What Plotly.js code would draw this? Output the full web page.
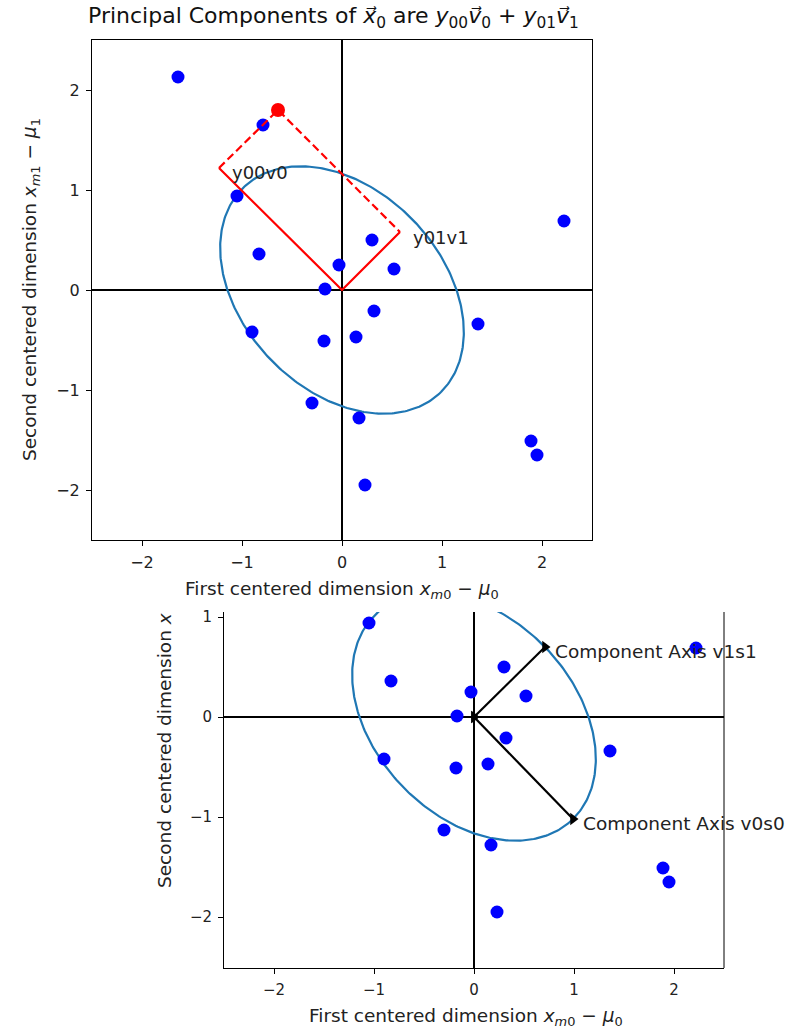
<!DOCTYPE html>
<html>
<head>
<meta charset="utf-8">
<script src="https://cdn.plot.ly/plotly-3.0.1.min.js"></script>
<style>html,body{margin:0;padding:0;background:#fff;}#chart{width:804px;height:1029px;}</style>
</head>
<body>
<div id="chart"></div>
<script>
// ---- data ----
const pointsX = [-1.64, -0.79, -1.05, -0.83, 0.30, -0.03, 0.52, -0.17, 0.32, -0.90, -0.18, 0.14, 1.36, -0.30, 0.17, 2.22, 1.89, 1.95, 0.23];
const pointsY = [2.13, 1.65, 0.94, 0.36, 0.50, 0.25, 0.21, 0.01, -0.21, -0.42, -0.51, -0.47, -0.34, -1.13, -1.28, 0.69, -1.51, -1.65, -1.95];
const redPoint = [-0.64, 1.80];      // x0
const y00v0 = [-1.23, 1.22];         // projection on v0
const y01v1 = [0.58, 0.58];          // projection on v1
const v0s0 = [0.99, -1.02];          // component axis 0 (scaled)
const v1s1 = [0.71, 0.70];           // component axis 1 (scaled)
const tickVals = [-2, -1, 0, 1, 2];
const tickVals2 = [-2, -1, 0, 1];
const labelTop = ['y00v0', 'y01v1'];
const labelBottom = ['Component Axis v0s0', 'Component Axis v1s1'];

// ellipse spanned by the two scaled component axes
const ex = [], ey = [];
for (let i = 0; i <= 360; i++) {
  const t = i * Math.PI / 180;
  ex.push(Math.cos(t) * v0s0[0] + Math.sin(t) * v1s1[0]);
  ey.push(Math.cos(t) * v0s0[1] + Math.sin(t) * v1s1[1]);
}

const W = 804, H = 1029;
const px = v => v / W;
const py = v => 1 - v / H;
const FONT = 'DejaVu Sans, sans-serif';
const C0 = '#1f77b4';

const traces = [
  // top
  {x: ex, y: ey, xaxis: 'x', yaxis: 'y', mode: 'lines', line: {color: C0, width: 2.2}},
  {x: pointsX, y: pointsY, xaxis: 'x', yaxis: 'y', mode: 'markers', marker: {color: '#0000ff', size: 13}},
  {x: [y00v0[0], 0, y01v1[0]], y: [y00v0[1], 0, y01v1[1]], xaxis: 'x', yaxis: 'y', mode: 'lines', line: {color: '#ff0000', width: 2.2}},
  {x: [y00v0[0], redPoint[0], y01v1[0]], y: [y00v0[1], redPoint[1], y01v1[1]], xaxis: 'x', yaxis: 'y', mode: 'lines', line: {color: '#ff0000', width: 2.2, dash: '8px,4px'}},
  {x: [redPoint[0]], y: [redPoint[1]], xaxis: 'x', yaxis: 'y', mode: 'markers', marker: {color: '#ff0000', size: 14}},
  // bottom
  {x: ex, y: ey, xaxis: 'x2', yaxis: 'y2', mode: 'lines', line: {color: C0, width: 2.2}},
  {x: pointsX, y: pointsY, xaxis: 'x2', yaxis: 'y2', mode: 'markers', marker: {color: '#0000ff', size: 13}},
  {x: [0, v0s0[0]], y: [0, v0s0[1]], xaxis: 'x2', yaxis: 'y2', mode: 'lines+markers', line: {color: '#000', width: 2.2}, marker: {symbol: 'triangle-right', size: 11, color: '#000'}},
  {x: [0, v1s1[0]], y: [0, v1s1[1]], xaxis: 'x2', yaxis: 'y2', mode: 'lines+markers', line: {color: '#000', width: 2.2}, marker: {symbol: 'triangle-right', size: 11, color: '#000'}}
];

const axisCommon = {
  showgrid: false, zeroline: true, zerolinecolor: '#000', zerolinewidth: 2.4,
  showline: true, linecolor: '#000', linewidth: 1,
  ticks: 'outside', ticklen: 5, tickwidth: 1, tickcolor: '#000',
  ticklabelstandoff: 3,
  tickfont: {family: FONT, size: 16, color: '#222'},
  fixedrange: true
};

const labFont = {family: FONT, size: 18.5, color: '#222'};
const txtFont = {family: FONT, size: 18, color: '#222'};
const cmpFont = {family: FONT, size: 18.5, color: '#222'};
const annotations = [
  {xref: 'paper', yref: 'paper', x: px(333), y: py(17), xanchor: 'center', yanchor: 'middle', showarrow: false,
   text: 'Principal Components of <i>x\u20D7</i><sub>0</sub> are <i>y</i><sub>00</sub><i>v\u20D7</i><sub>0</sub> + <i>y</i><sub>01</sub><i>v\u20D7</i><sub>1</sub>',
   font: {family: FONT, size: 22, color: '#111'}},
  {xref: 'paper', yref: 'paper', x: px(31), y: py(290), textangle: -90, xanchor: 'center', yanchor: 'middle', showarrow: false,
   text: 'Second centered dimension <i>x</i><sub><i>m</i>1</sub> \u2212 <i>\u03bc</i><sub>1</sub>', font: labFont},
  {xref: 'paper', yref: 'paper', x: px(342), y: py(590), xanchor: 'center', yanchor: 'middle', showarrow: false,
   text: 'First centered dimension <i>x</i><sub><i>m</i>0</sub> \u2212 <i>\u03bc</i><sub>0</sub>', font: labFont},
  {xref: 'paper', yref: 'paper', x: px(466), y: py(1017), xanchor: 'center', yanchor: 'middle', showarrow: false,
   text: 'First centered dimension <i>x</i><sub><i>m</i>0</sub> \u2212 <i>\u03bc</i><sub>0</sub>', font: labFont},
  {xref: 'paper', yref: 'paper', x: px(164), y: py(890), textangle: -90, xanchor: 'center', yanchor: 'bottom', showarrow: false,
   text: 'Second centered dimension <i>x</i>', font: labFont},
  {xref: 'x', yref: 'y', x: y00v0[0] + 0.11, y: y00v0[1] - 0.05, xanchor: 'left', yanchor: 'middle', showarrow: false, text: labelTop[0], font: txtFont},
  {xref: 'x', yref: 'y', x: y01v1[0] + 0.11, y: y01v1[1] - 0.06, xanchor: 'left', yanchor: 'middle', showarrow: false, text: labelTop[1], font: txtFont},
  {xref: 'x2', yref: 'y2', x: v0s0[0] + 0.08, y: v0s0[1] - 0.04, xanchor: 'left', yanchor: 'middle', showarrow: false, text: labelBottom[0], font: cmpFont},
  {xref: 'x2', yref: 'y2', x: v1s1[0] + 0.08, y: v1s1[1] - 0.04, xanchor: 'left', yanchor: 'middle', showarrow: false, text: labelBottom[1], font: cmpFont}
];

const layout = {
  width: W, height: H, margin: {l: 0, r: 0, t: 0, b: 0},
  paper_bgcolor: '#fff', plot_bgcolor: '#fff', showlegend: false,
  font: {family: FONT},
  xaxis: Object.assign({}, axisCommon, {domain: [px(92), px(592)], range: [-2.5, 2.5], tickvals: tickVals, mirror: true, anchor: 'y'}),
  yaxis: Object.assign({}, axisCommon, {domain: [py(540), py(40)], range: [-2.5, 2.5], tickvals: tickVals, mirror: true, anchor: 'x'}),
  xaxis2: Object.assign({}, axisCommon, {domain: [px(224), px(724)], range: [-2.5, 2.5], tickvals: tickVals, anchor: 'y2', tickfont: {family: FONT, size: 15, color: '#222'}}),
  yaxis2: Object.assign({}, axisCommon, {domain: [py(968), py(612)], range: [-2.51, 1.05], tickvals: tickVals2, anchor: 'x2', tickfont: {family: FONT, size: 15, color: '#222'}}),
  shapes: [
    {type: 'line', xref: 'x2 domain', yref: 'y2 domain', x0: 1, x1: 1, y0: 0, y1: 1, line: {color: '#000', width: 1}, layer: 'above'}
  ],
  annotations: annotations
};

Plotly.newPlot('chart', traces, layout, {displayModeBar: false, staticPlot: true});
</script>
</body>
</html>
